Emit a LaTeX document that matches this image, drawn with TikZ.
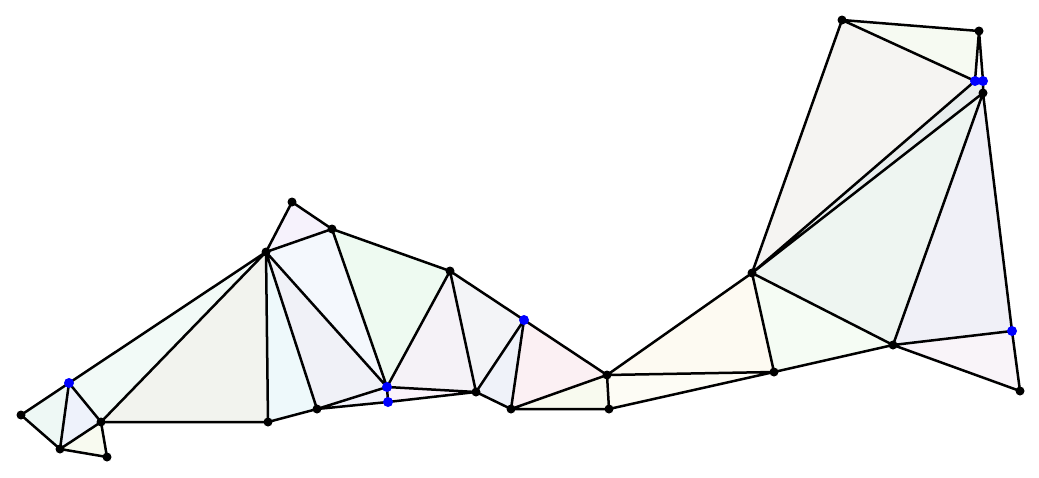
\documentclass[tikz,border=0pt]{standalone}
\begin{document}
\begin{tikzpicture}[x=1pt,y=-1pt,
  edge/.style={line width=2.5pt,line join=round,line cap=round},
  bdot/.style={circle,fill=black,inner sep=0pt,minimum size=9pt},
  udot/.style={circle,fill=blue,inner sep=0pt,minimum size=10pt}]
\useasboundingbox (0,0) rectangle (1039,477);
% vertices
\coordinate (A) at (21,415);
\coordinate (B) at (69,383);
\coordinate (C) at (60,449);
\coordinate (D) at (101,422);
\coordinate (E) at (107,457);
\coordinate (F) at (266,252);
\coordinate (G) at (292,202);
\coordinate (H) at (332,229);
\coordinate (I) at (268,422);
\coordinate (J) at (317,409);
\coordinate (K) at (387,387);
\coordinate (L) at (388,402);
\coordinate (M) at (450,271);
\coordinate (N) at (476,392);
\coordinate (O) at (524,320);
\coordinate (P) at (511,409);
\coordinate (Q) at (607,375);
\coordinate (R) at (609,409);
\coordinate (S) at (774,372);
\coordinate (T) at (752,273);
\coordinate (U) at (893,345);
\coordinate (V) at (1012,331);
\coordinate (W) at (1020,391);
\coordinate (X) at (842,20);
\coordinate (Y) at (979,31);
\coordinate (Z1) at (975,81);
\coordinate (Z2) at (983,81);
\coordinate (Z3) at (983,93);
% fills
\fill[fill={rgb,255:red,238;green,248;blue,245}] (A)--(B)--(C)--cycle;
\fill[fill={rgb,255:red,238;green,242;blue,251}] (B)--(C)--(D)--cycle;
\fill[fill={rgb,255:red,248;green,250;blue,240}] (C)--(D)--(E)--cycle;
\fill[fill={rgb,255:red,242;green,250;blue,247}] (B)--(D)--(F)--cycle;
\fill[fill={rgb,255:red,242;green,243;blue,238}] (D)--(F)--(I)--cycle;
\fill[fill={rgb,255:red,238;green,249;blue,251}] (F)--(I)--(J)--cycle;
\fill[fill={rgb,255:red,240;green,241;blue,247}] (F)--(J)--(K)--cycle;
\fill[fill={rgb,255:red,244;green,248;blue,253}] (F)--(H)--(K)--cycle;
\fill[fill={rgb,255:red,246;green,242;blue,252}] (F)--(G)--(H)--cycle;
\fill[fill={rgb,255:red,238;green,250;blue,241}] (H)--(K)--(M)--cycle;
\fill[fill={rgb,255:red,245;green,242;blue,247}] (K)--(M)--(N)--cycle;
\fill[fill={rgb,255:red,251;green,243;blue,251}] (K)--(L)--(N)--cycle;
\fill[fill={rgb,255:red,242;green,243;blue,251}] (J)--(K)--(L)--cycle;
\fill[fill={rgb,255:red,243;green,244;blue,247}] (M)--(N)--(O)--cycle;
\fill[fill={rgb,255:red,239;green,242;blue,249}] (N)--(O)--(P)--cycle;
\fill[fill={rgb,255:red,251;green,240;blue,243}] (O)--(P)--(Q)--cycle;
\fill[fill={rgb,255:red,248;green,250;blue,239}] (P)--(Q)--(R)--cycle;
\fill[fill={rgb,255:red,253;green,252;blue,245}] (Q)--(R)--(S)--cycle;
\fill[fill={rgb,255:red,253;green,250;blue,242}] (Q)--(S)--(T)--cycle;
\fill[fill={rgb,255:red,245;green,252;blue,244}] (S)--(T)--(U)--cycle;
\fill[fill={rgb,255:red,238;green,245;blue,241}] (T)--(U)--(Z3)--cycle;
\fill[fill={rgb,255:red,240;green,240;blue,247}] (U)--(V)--(Z3)--cycle;
\fill[fill={rgb,255:red,249;green,244;blue,249}] (U)--(V)--(W)--cycle;
\fill[fill={rgb,255:red,245;green,244;blue,242}] (T)--(X)--(Z1)--cycle;
\fill[fill={rgb,255:red,246;green,250;blue,242}] (X)--(Y)--(Z1)--cycle;
\fill[fill={rgb,255:red,233;green,238;blue,238}] (T)--(Z1)--(Z2)--(Z3)--cycle;
% edges
\draw[edge] (A)--(B) (A)--(C) (B)--(C) (B)--(D) (C)--(D) (C)--(E) (D)--(E)
  (B)--(F) (D)--(F) (D)--(I) (F)--(I)
  (F)--(G) (G)--(H) (F)--(H) (F)--(J) (F)--(K) (H)--(K) (H)--(M) (K)--(M)
  (I)--(J) (J)--(K) (J)--(L) (K)--(L) (L)--(N) (K)--(N)
  (M)--(N) (M)--(O) (N)--(O) (O)--(P) (N)--(P)
  (O)--(Q) (P)--(Q) (P)--(R) (Q)--(R) (R)--(S) (Q)--(S)
  (Q)--(T) (S)--(T) (T)--(U) (S)--(U) (U)--(Z3) (U)--(V) (V)--(Z3)
  (V)--(W) (U)--(W) (T)--(X) (X)--(Y) (X)--(Z1) (Y)--(Z1) (Y)--(Z2)
  (T)--(Z1) (T)--(Z3) (Z2)--(Z3) (Z1)--(Z2);
% dots
\foreach \p in {A,C,D,E,F,G,H,I,J,M,N,P,Q,R,S,T,U,W,X,Y,Z3}
  \node[bdot] (d\p) at (\p) {};
\foreach \p in {B,K,L,O,V,Z1,Z2}
  \node[udot] (d\p) at (\p) {};
\end{tikzpicture}
\end{document}
